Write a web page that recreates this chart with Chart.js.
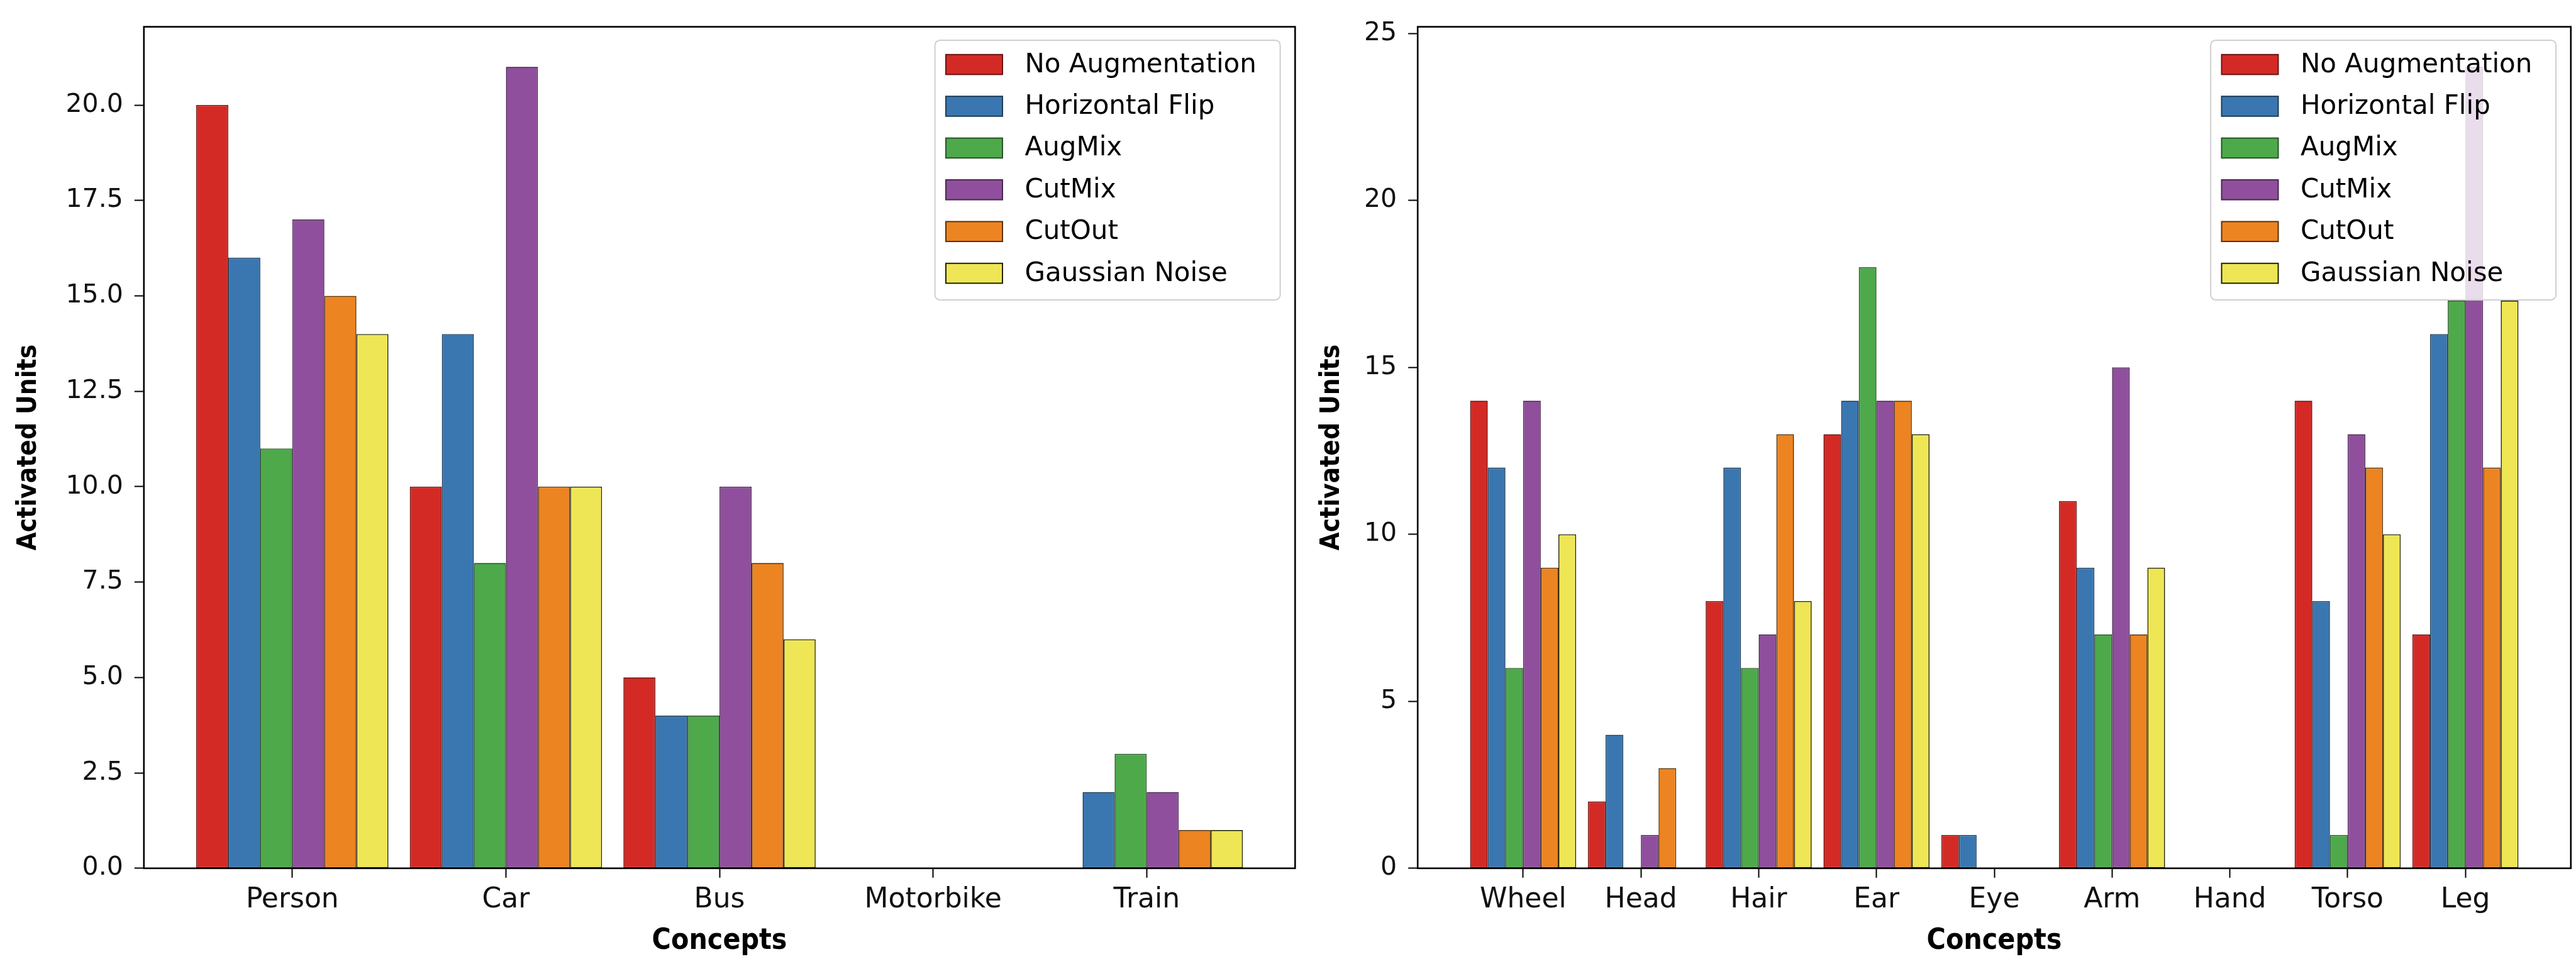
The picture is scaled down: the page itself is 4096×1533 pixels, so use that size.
<!DOCTYPE html>
<html>
<head>
<meta charset="utf-8">
<script src="https://cdn.jsdelivr.net/npm/chart.js@4.4.1/dist/chart.umd.min.js"></script>
<style>
html,body{margin:0;padding:0;background:#fff;overflow:hidden;width:4096px;height:1533px}
.wrap{position:absolute;top:0;height:1533px}
</style>
</head>
<body>
<div class="wrap" style="left:0;width:2075px"><canvas id="c1"></canvas></div>
<div class="wrap" style="left:2075px;width:2021px"><canvas id="c2"></canvas></div>
<script>
// ---------- data ----------
const seriesNames = ['No Augmentation', 'Horizontal Flip', 'AugMix', 'CutMix', 'CutOut', 'Gaussian Noise'];

const objectCategories = ['Person', 'Car', 'Bus', 'Motorbike', 'Train'];
const objNoAug  = [20, 10, 5, 0, 0];
const objHFlip  = [16, 14, 4, 0, 2];
const objAugMix = [11, 8, 4, 0, 3];
const objCutMix = [17, 21, 10, 0, 2];
const objCutOut = [15, 10, 8, 0, 1];
const objGauss  = [14, 10, 6, 0, 1];
const objYTicks = [0, 2.5, 5, 7.5, 10, 12.5, 15, 17.5, 20];

const partCategories = ['Wheel', 'Head', 'Hair', 'Ear', 'Eye', 'Arm', 'Hand', 'Torso', 'Leg'];
const partNoAug  = [14, 2, 8, 13, 1, 11, 0, 14, 7];
const partHFlip  = [12, 4, 12, 14, 1, 9, 0, 8, 16];
const partAugMix = [6, 0, 6, 18, 0, 7, 0, 1, 17];
const partCutMix = [14, 1, 7, 14, 0, 15, 0, 13, 24];
const partCutOut = [9, 3, 13, 14, 0, 7, 0, 12, 12];
const partGauss  = [10, 0, 8, 13, 0, 9, 0, 10, 17];
const partYTicks = [0, 5, 10, 15, 20, 25];

const axisTitleX = 'Concepts';
const axisTitleY = 'Activated Units';

// ---------- style ----------
const fills   = ['#d42a25', '#3a77b0', '#4ea94b', '#8f4f9c', '#ec8422', '#eee655'];
const edges   = ['#6a1412', '#1d3c58', '#275426', '#48284e', '#5a3208', '#222200'];
const xTickFont = {family: "'DejaVu Sans', sans-serif", size: 44};
const yTickFont = {family: "'DejaVu Sans', sans-serif", size: 41};
const xTitleFont = {family: "'DejaVu Sans Condensed', 'Liberation Sans Narrow', 'DejaVu Sans', sans-serif", size: 46, weight: 'bold'};
const yTitleFont = {family: "'DejaVu Sans Condensed', 'Liberation Sans Narrow', 'DejaVu Sans', sans-serif", size: 42, weight: 'bold'};

function makeDatasets(cats, lists) {
  return lists.map((vals, k) => ({
    label: seriesNames[k],
    data: cats.map((c, i) => ({x: i, y: vals[i]})),
    backgroundColor: fills[k],
    borderColor: edges[k],
    borderWidth: 1.6,
    borderSkipped: false,
    categoryPercentage: 0.9,
    barPercentage: 1.0
  }));
}

const framePlugin = {
  id: 'frameAndLegend',
  afterDraw(chart, args, o) {
    const ctx = chart.ctx, a = chart.chartArea;
    ctx.save();
    // legend box
    const x0 = a.right - o.marginRight - o.width;
    const y0 = a.top + o.marginTop;
    const r = 8;
    ctx.beginPath();
    ctx.moveTo(x0 + r, y0);
    ctx.arcTo(x0 + o.width, y0, x0 + o.width, y0 + o.height, r);
    ctx.arcTo(x0 + o.width, y0 + o.height, x0, y0 + o.height, r);
    ctx.arcTo(x0, y0 + o.height, x0, y0, r);
    ctx.arcTo(x0, y0, x0 + o.width, y0, r);
    ctx.closePath();
    ctx.fillStyle = 'rgba(255,255,255,0.8)';
    ctx.fill();
    ctx.strokeStyle = '#cfcfcf';
    ctx.lineWidth = 2;
    ctx.stroke();
    chart.data.datasets.forEach((ds, i) => {
      const cy = y0 + o.firstRow + i * o.rowGap;
      ctx.fillStyle = ds.backgroundColor;
      ctx.fillRect(x0 + o.swatchX, cy - o.swatchH / 2, o.swatchW, o.swatchH);
      ctx.strokeStyle = ds.borderColor;
      ctx.lineWidth = 2;
      ctx.strokeRect(x0 + o.swatchX, cy - o.swatchH / 2, o.swatchW, o.swatchH);
      ctx.fillStyle = '#000';
      ctx.font = o.font;
      ctx.textBaseline = 'middle';
      ctx.textAlign = 'left';
      ctx.fillText(ds.label, x0 + o.textX, cy + 1);
    });
    // axes frame
    ctx.strokeStyle = '#000';
    ctx.lineWidth = 2.6;
    ctx.strokeRect(a.left, a.top, a.right - a.left, a.bottom - a.top);
    ctx.restore();
  }
};

function buildChart(id, cats, lists, yTicks, yMax, yDecimals, xPad, yAxisWidth, yTitlePad, rightPad) {
  const n = cats.length;
  return new Chart(document.getElementById(id), {
    type: 'bar',
    data: {datasets: makeDatasets(cats, lists)},
    plugins: [framePlugin],
    options: {
      responsive: true,
      maintainAspectRatio: false,
      animation: false,
      devicePixelRatio: 1,
      layout: {padding: {top: 39.5, right: rightPad, bottom: 0, left: 0}},
      plugins: {
        legend: {display: false},
        tooltip: {enabled: false},
        frameAndLegend: {
          width: 549, height: 413, marginRight: 23.7, marginTop: 21.3,
          swatchX: 17.4, swatchW: 90, swatchH: 31.6, textX: 142.8,
          firstRow: 38.7, rowGap: 66.4, font: "42px 'DejaVu Sans', sans-serif"
        }
      },
      scales: {
        x: {
          type: 'linear',
          min: -xPad,
          max: (n - 1) + xPad,
          offset: false,
          afterBuildTicks: s => { s.ticks = cats.map((c, i) => ({value: i})); },
          afterFit: s => { s.height = 152.2; },
          ticks: {
            callback: v => cats[v],
            autoSkip: false, maxRotation: 0, minRotation: 0,
            font: xTickFont, color: '#111', padding: 9
          },
          grid: {offset: false, drawOnChartArea: false, drawTicks: true, tickLength: 15, tickWidth: 2, tickColor: '#000'},
          border: {display: false},
          title: {display: true, text: axisTitleX, font: xTitleFont, color: '#000', padding: {top: 0, bottom: 8}}
        },
        y: {
          type: 'linear',
          min: 0,
          max: yMax,
          afterBuildTicks: s => { s.ticks = yTicks.map(v => ({value: v})); },
          afterFit: s => { s.width = yAxisWidth; },
          ticks: {
            callback: v => Number(v).toFixed(yDecimals),
            font: yTickFont, color: '#111', padding: 18
          },
          grid: {offset: false, drawOnChartArea: false, drawTicks: true, tickLength: 15, tickWidth: 2, tickColor: '#000'},
          border: {display: false},
          title: {display: true, text: axisTitleY, font: yTitleFont, color: '#000', padding: {top: yTitlePad, bottom: 0}}
        }
      }
    }
  });
}

buildChart('c1', objectCategories,
  [objNoAug, objHFlip, objAugMix, objCutMix, objCutOut, objGauss],
  objYTicks, 22.05, 1, 0.695, 228.8, 21, 15.7);

buildChart('c2', partCategories,
  [partNoAug, partHFlip, partAugMix, partCutMix, partCutOut, partGauss],
  partYTicks, 25.2, 0, 0.895, 179.2, 17.5, 8.2);
</script>
</body>
</html>
